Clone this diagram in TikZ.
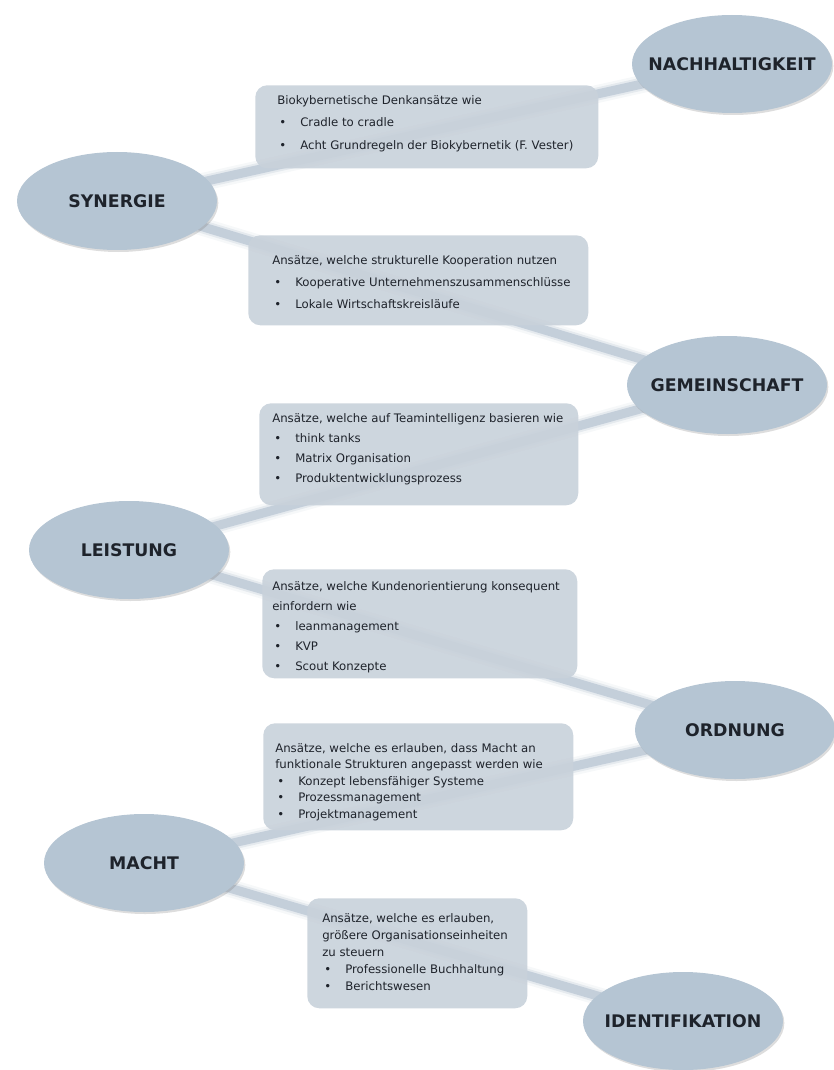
\documentclass[tikz,border=0pt]{standalone}
\usepackage{fontspec}
\setmainfont{DejaVu Sans}
\usetikzlibrary{shapes.geometric,shadows,backgrounds}

\definecolor{kernfill}{HTML}{B5C5D3}
\definecolor{boxfill}{HTML}{C9D2DB}
\definecolor{bandcol}{HTML}{C4CFDA}
\definecolor{schrift}{HTML}{1E232B}

\newlength\pxu
\setlength\pxu{0.75pt}
\newcommand\bul{\hspace*{2\pxu}\makebox[21\pxu][l]{•}}
% width, height, left pad, top gap, line skip, text
\newcommand\inhalt[6]{\begin{minipage}[c][#2\pxu][t]{#1\pxu}%
  \setlength\baselineskip{#5\pxu}\leftskip=#3\pxu
  \vspace*{#4\pxu}\rule{0pt}{8\pxu}#6\end{minipage}}

\tikzset{
    kern/.style={ellipse, fill=kernfill, inner sep=0pt,
        minimum width=200\pxu, minimum height=98\pxu,
        font=\fontsize{13}{15}\selectfont\bfseries, text=schrift,
        drop shadow={shadow xshift=1pt, shadow yshift=-1.5pt, opacity=.22, fill=black!60}},
    ansatz/.style={rectangle, rounded corners=9pt, fill=boxfill, fill opacity=.92,
        text opacity=1, inner sep=0pt, anchor=north west,
        font=\fontsize{8.8}{10}\selectfont, text=schrift},
    band/.style={line width=9\pxu, draw=bandcol,
        preaction={draw=bandcol, line width=18\pxu, opacity=.15},
        preaction={draw=bandcol, line width=13\pxu, opacity=.35}},
}

\begin{document}
\begin{tikzpicture}[x=0.75pt, y=-0.75pt]
\useasboundingbox (0,0) rectangle (834,1070);

% Kernbegriffe
\node[kern] (nach)  at (732,64)   {\makebox[0pt]{NACHHALTIGKEIT}};
\node[kern] (syn)   at (117,201)  {\makebox[0pt]{SYNERGIE}};
\node[kern] (gem)   at (727,385)  {\makebox[0pt]{GEMEINSCHAFT}};
\node[kern] (leist) at (129,550)  {\makebox[0pt]{LEISTUNG}};
\node[kern] (ord)   at (735,730)  {\makebox[0pt]{ORDNUNG}};
\node[kern] (macht) at (144,863)  {\makebox[0pt]{MACHT}};
\node[kern] (ident) at (683,1021) {\makebox[0pt]{IDENTIFIKATION}};

% Ansaetze
\node[ansatz] (b1) at (255,85) {\inhalt{343}{83}{22}{10}{22.5}{%
    Biokybernetische Denkansätze wie\\
    \bul Cradle to cradle\\
    \bul Acht Grundregeln der Biokybernetik (F. Vester)}};
\node[ansatz] (b2) at (248,235) {\inhalt{340}{90}{24}{20}{22}{%
    Ansätze, welche strukturelle Kooperation nutzen\\
    \bul Kooperative Unternehmenszusammenschlüsse\\
    \bul Lokale Wirtschaftskreisläufe}};
\node[ansatz] (b3) at (259,403) {\inhalt{319}{102}{13}{10}{20}{%
    Ansätze, welche auf Teamintelligenz basieren wie\\
    \bul think tanks\\
    \bul Matrix Organisation\\
    \bul Produktentwicklungsprozess}};
\node[ansatz] (b4) at (262,569) {\inhalt{315}{109}{10}{12}{20}{%
    Ansätze, welche Kundenorientierung konsequent\\
    einfordern wie\\
    \bul leanmanagement\\
    \bul KVP\\
    \bul Scout Konzepte}};
\node[ansatz] (b5) at (263,723) {\inhalt{310}{107}{12}{20}{16.6}{%
    Ansätze, welche es erlauben, dass Macht an\\
    funktionale Strukturen angepasst werden wie\\
    \bul Konzept lebensfähiger Systeme\\
    \bul Prozessmanagement\\
    \bul Projektmanagement}};
\node[ansatz] (b6) at (307,898) {\inhalt{220}{110}{15}{15}{17}{%
    Ansätze, welche es erlauben,\\
    größere Organisationseinheiten\\
    zu steuern\\
    \bul Professionelle Buchhaltung\\
    \bul Berichtswesen}};

% Verbindungen
\begin{scope}[on background layer]
    \draw[band] (syn.center) -- (nach.center);
    \draw[band] (syn.center) -- (gem.center);
    \draw[band] (gem.center) -- (leist.center);
    \draw[band] (leist.center) -- (ord.center);
    \draw[band] (ord.center) -- (macht.center);
    \draw[band] (macht.center) -- (ident.center);
\end{scope}
\end{tikzpicture}
\end{document}
